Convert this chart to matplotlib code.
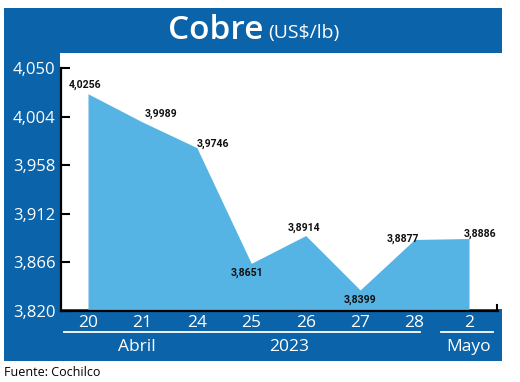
import matplotlib
matplotlib.use("Agg")
import matplotlib.pyplot as plt
from matplotlib.patches import Rectangle
from matplotlib.transforms import blended_transform_factory

# ---- data ----
days = ["20", "21", "24", "25", "26", "27", "28", "2"]
prices = [4.0256, 3.9989, 3.9746, 3.8651, 3.8914, 3.8399, 3.8877, 3.8886]
price_labels = ["4,0256", "3,9989", "3,9746", "3,8651", "3,8914", "3,8399", "3,8877", "3,8886"]
y_ticks = [3.820, 3.866, 3.912, 3.958, 4.004, 4.050]
y_tick_labels = ["3,820", "3,866", "3,912", "3,958", "4,004", "4,050"]
# label offsets in pixels (dx, dy) relative to each point
label_offsets = [(-3, 9), (19, 8), (16, 4), (-4, -9), (-2, 8), (0, -10), (-12, 1), (11, 5)]

BLUE = "#0b63a9"
LIGHT = "#55b4e3"
W, H = 520, 382

fig = plt.figure(figsize=(5.2, 3.82), dpi=100)
fig.patch.set_facecolor("white")

# background / frame axes in pixel coordinates (y downward)
bg = fig.add_axes([0, 0, 1, 1], zorder=0)
bg.set_xlim(0, W)
bg.set_ylim(H, 0)
bg.axis("off")
bg.add_patch(Rectangle((4, 8), 498, 353, facecolor=BLUE, edgecolor="none"))
bg.add_patch(Rectangle((60, 53), 442, 256, facecolor="white", edgecolor="none"))

# title
bg.text(264, 39, "Cobre", color="white", fontsize=24, fontweight="semibold",
        family="Open Sans", ha="right", va="baseline")
bg.text(268, 38, "(US$/lb)", color="white", fontsize=14,
        family="Open Sans", ha="left", va="baseline")

# source
bg.text(4, 372, "Fuente: Cochilco", color="black", fontsize=9,
        family="Open Sans", ha="left", va="center")

# main axes
x0, x1 = 61, 498
ytop, ybot = 68, 311
ax = fig.add_axes([x0 / W, (H - ybot) / H, (x1 - x0) / W, (ybot - ytop) / H], zorder=1)
ax.patch.set_alpha(0)
xs = list(range(len(days)))
px_per_unit = (469 - 88) / 7
ax.set_xlim(-(88 - x0) / px_per_unit, 7 + (x1 - 469) / px_per_unit)
ax.set_ylim(3.820, 4.050)

ax.fill_between(xs, prices, 3.820, color=LIGHT, linewidth=0, zorder=1)

for x, v, lab, (dx, dy) in zip(xs, prices, price_labels, label_offsets):
    ax.annotate(lab, (x, v), xytext=(dx, dy), textcoords="offset pixels",
                ha="center", va="center", fontsize=7.6, color="#111111",
                family="Roboto", fontweight="bold", zorder=3)

for s in ["top", "right"]:
    ax.spines[s].set_visible(False)
for s in ["left", "bottom"]:
    ax.spines[s].set_color("black")
    ax.spines[s].set_linewidth(1.6)
ax.spines["bottom"].set_zorder(4)

ax.set_yticks(y_ticks)
ax.set_yticklabels(y_tick_labels)
ax.tick_params(axis="y", direction="in", length=6.5, width=1.5, color="black",
               labelcolor="white", labelsize=12, pad=4)
ax.set_xticks(xs)
ax.set_xticklabels(days)
ax.tick_params(axis="x", length=0, labelcolor="white", labelsize=12.5, pad=3)
for t in ax.get_xticklabels() + ax.get_yticklabels():
    t.set_family("Open Sans")

# right end small upward tick
ax.plot([1.0 - 1.0 / (x1 - x0), 1.0 - 1.0 / (x1 - x0)], [0, 6 / (ybot - ytop)],
        transform=ax.transAxes, color="black", lw=1.5, clip_on=False, zorder=4)

# group underlines and labels
tr = blended_transform_factory(ax.transData, bg.transData)
bg_line_y = 332
ax.plot([(64 - 88) / px_per_unit, (420 - 88) / px_per_unit], [bg_line_y, bg_line_y],
        transform=tr, color="white", lw=1.3, clip_on=False)
ax.plot([(441 - 88) / px_per_unit, (493 - 88) / px_per_unit], [bg_line_y, bg_line_y],
        transform=tr, color="white", lw=1.3, clip_on=False)
for label, px in [("Abril", 137), ("2023", 289), ("Mayo", 469)]:
    ax.text((px - 88) / px_per_unit, 347, label, transform=tr, color="white",
            fontsize=12.5, family="Open Sans", ha="center", va="center", clip_on=False)

fig.savefig("out.png", dpi=100)
